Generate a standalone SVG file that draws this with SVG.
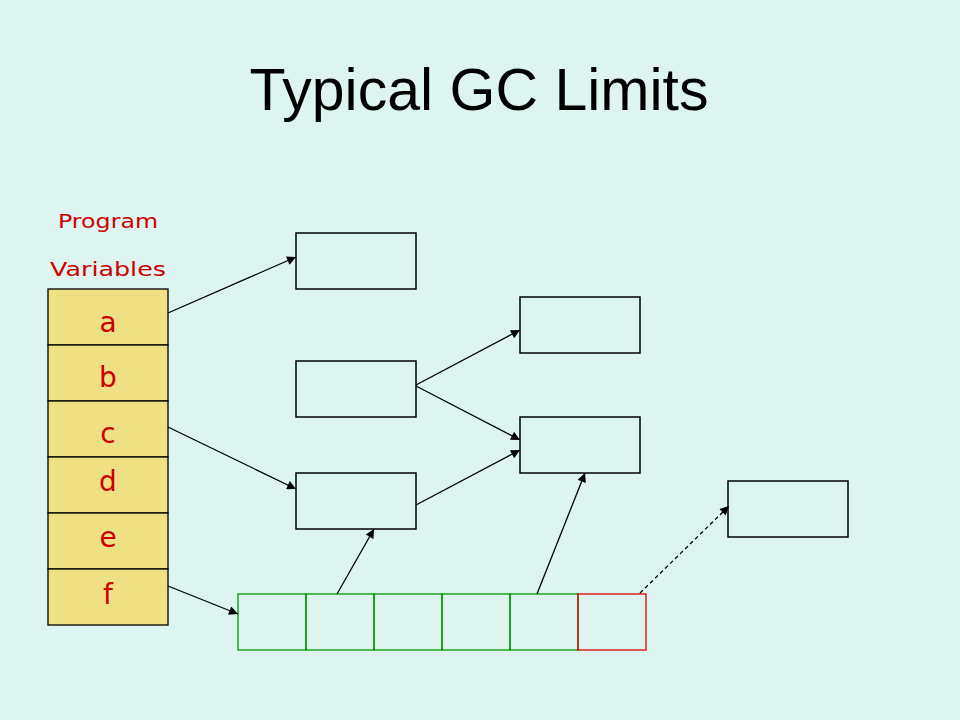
<svg xmlns="http://www.w3.org/2000/svg" width="960" height="720" viewBox="0 0 960 720">
<defs>
<marker id="ah" viewBox="0 0 10 10" refX="10" refY="5" markerWidth="12" markerHeight="9" markerUnits="userSpaceOnUse" orient="auto">
<path d="M0,0 L10,5 L0,10 z" fill="#000"/>
</marker>
<style>
.box{fill:none;stroke:#000;stroke-width:1.5}
.var{fill:#F0E084;stroke:#000;stroke-width:1.3}
.vt{font-family:"DejaVu Sans",sans-serif;font-size:28px;fill:#CC0000;text-anchor:middle}
.lbl{font-family:"DejaVu Sans",sans-serif;font-size:19px;fill:#CC0000;text-anchor:middle}
.cell{fill:none;stroke:#009900;stroke-width:1.3}
.conn{stroke:#000;stroke-width:1.3;fill:none;marker-end:url(#ah)}
</style>
</defs>
<rect width="960" height="720" fill="#DDF4F0"/>
<text x="479" y="110" font-family="Liberation Sans, Arial, sans-serif" font-size="59" fill="#000" text-anchor="middle">Typical GC Limits</text>
<g id="label">
<text class="lbl" x="108" y="228" textLength="100" lengthAdjust="spacingAndGlyphs">Program</text>
<text class="lbl" x="108" y="276" textLength="116" lengthAdjust="spacingAndGlyphs">Variables</text>
</g>
<g id="var-a"><rect class="var" x="48" y="289" width="120" height="56"/><text class="vt" x="108" y="332">a</text></g>
<g id="var-b"><rect class="var" x="48" y="345" width="120" height="56"/><text class="vt" x="108" y="387">b</text></g>
<g id="var-c"><rect class="var" x="48" y="401" width="120" height="56"/><text class="vt" x="108" y="443">c</text></g>
<g id="var-d"><rect class="var" x="48" y="457" width="120" height="56"/><text class="vt" x="108" y="491">d</text></g>
<g id="var-e"><rect class="var" x="48" y="513" width="120" height="56"/><text class="vt" x="108" y="547">e</text></g>
<g id="var-f"><rect class="var" x="48" y="569" width="120" height="56"/><text class="vt" x="108" y="604">f</text></g>
<g id="obj1"><rect class="box" x="296" y="233" width="120" height="56"/></g>
<g id="obj2"><rect class="box" x="296" y="361" width="120" height="56"/></g>
<g id="obj3"><rect class="box" x="296" y="473" width="120" height="56"/></g>
<g id="obj4"><rect class="box" x="520" y="297" width="120" height="56"/></g>
<g id="obj5"><rect class="box" x="520" y="417" width="120" height="56"/></g>
<g id="obj6"><rect class="box" x="728" y="481" width="120" height="56"/></g>
<g id="array">
<rect class="cell" x="238" y="594" width="68" height="56"/>
<rect class="cell" x="306" y="594" width="68" height="56"/>
<rect class="cell" x="374" y="594" width="68" height="56"/>
<rect class="cell" x="442" y="594" width="68" height="56"/>
<rect class="cell" x="510" y="594" width="68" height="56"/>
<rect x="578" y="594" width="68" height="56" fill="none" stroke="#DD0000" stroke-width="1.3"/>
</g>
<g id="connectors">
<line class="conn" x1="168" y1="313" x2="296" y2="257"/>
<line class="conn" x1="168" y1="427" x2="296" y2="489"/>
<line class="conn" x1="168" y1="586" x2="238" y2="614"/>
<line class="conn" x1="416" y1="385" x2="520" y2="330"/>
<line class="conn" x1="416" y1="386" x2="520" y2="440"/>
<line class="conn" x1="416" y1="505" x2="520" y2="450"/>
<line class="conn" x1="337" y1="594" x2="374" y2="529"/>
<line class="conn" x1="537" y1="594" x2="585" y2="473"/>
<line class="conn" x1="640" y1="593" x2="729" y2="506" stroke-dasharray="4,3"/>
</g>
</svg>
